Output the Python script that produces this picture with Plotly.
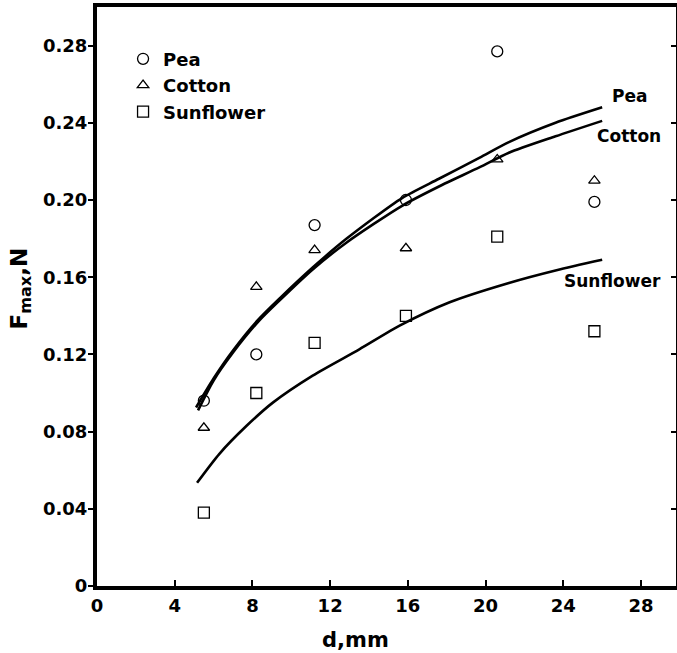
import plotly.graph_objects as go

# Measured points
d_mm = [5.5, 8.2, 11.2, 15.9, 20.6, 25.6]
pea_f = [0.096, 0.120, 0.187, 0.200, 0.277, 0.199]
cotton_f = [0.082, 0.155, 0.174, 0.175, 0.221, 0.210]
sunflower_f = [0.038, 0.100, 0.126, 0.140, 0.181, 0.132]

# Fitted curves
pea_curve_d = [5.1, 6.0, 7.0, 8.3, 9.4, 11.1, 12.85, 15.7, 17.6, 19.7, 21.2, 23.6, 26.0]
pea_curve_f = [0.0925, 0.1075, 0.122, 0.138, 0.149, 0.165, 0.180, 0.201, 0.211, 0.222, 0.230, 0.240, 0.248]
cotton_curve_d = [5.2, 6.0, 7.0, 8.3, 9.4, 11.1, 12.85, 15.7, 17.6, 19.7, 21.2, 23.6, 26.0]
cotton_curve_f = [0.091, 0.1065, 0.121, 0.137, 0.148, 0.164, 0.178, 0.197, 0.207, 0.217, 0.2245, 0.233, 0.241]
sun_curve_d = [5.15, 6.3, 7.7, 9.05, 11.1, 13.5, 15.6, 18.15, 21.2, 23.65, 26.0]
sun_curve_f = [0.0535, 0.0685, 0.083, 0.095, 0.109, 0.1226, 0.135, 0.147, 0.157, 0.1636, 0.169]

x_ticks = [0, 4, 8, 12, 16, 20, 24, 28]
y_ticks = [0, 0.04, 0.08, 0.12, 0.16, 0.20, 0.24, 0.28]
y_tick_labels = ["0", "0.04", "0.08", "0.12", "0.16", "0.20", "0.24", "0.28"]

FONT = "DejaVu Sans"
fig = go.Figure()

fig.add_trace(go.Scatter(x=d_mm, y=pea_f, mode="markers", name="Pea", legendgroup="a",
                         marker=dict(symbol="circle-open", size=11, color="black", line=dict(width=1.3))))
fig.add_trace(go.Scatter(x=d_mm, y=cotton_f, mode="markers", name="Cotton", legendgroup="b",
                         marker=dict(symbol="triangle-up-open", size=10, color="black", line=dict(width=1.3))))
fig.add_trace(go.Scatter(x=d_mm, y=sunflower_f, mode="markers", name="Sunflower", legendgroup="c",
                         marker=dict(symbol="square-open", size=11, color="black", line=dict(width=1.3))))

for cx, cy in [(pea_curve_d, pea_curve_f), (cotton_curve_d, cotton_curve_f), (sun_curve_d, sun_curve_f)]:
    fig.add_trace(go.Scatter(x=cx, y=cy, mode="lines", showlegend=False, hoverinfo="skip",
                             line=dict(color="black", width=2.6, shape="spline", smoothing=0.7)))

# invisible trace so the right-hand axis (inward ticks) is drawn
fig.add_trace(go.Scatter(x=[d_mm[0]], y=[pea_f[0]], yaxis="y2", mode="markers",
                         marker=dict(opacity=0), showlegend=False, hoverinfo="skip"))

lab_font = dict(family=FONT, size=17, color="black", weight="bold")
fig.add_annotation(x=pea_curve_d[-1], y=pea_curve_f[-1], text="Pea", showarrow=False,
                   xanchor="left", xshift=8, yshift=11, font=lab_font)
fig.add_annotation(x=cotton_curve_d[-1], y=cotton_curve_f[-1], text="Cotton", showarrow=False,
                   xanchor="left", xshift=-7, yshift=-15, font=lab_font)
fig.add_annotation(x=sun_curve_d[-1], y=sun_curve_f[-1], text="Sunflower", showarrow=False,
                   xanchor="center", xshift=10, yshift=-21, font=lab_font)

# axis titles
fig.add_annotation(xref="paper", yref="paper", x=0.447, y=0, yshift=-54, text="d,mm",
                   showarrow=False, xanchor="center", yanchor="middle",
                   font=dict(family=FONT, size=21, color="black", weight="bold"))
fig.add_annotation(xref="paper", yref="paper", x=0, xshift=-77, y=0.5, yshift=8,
                   text="F<sub>max</sub>,N", textangle=-90, showarrow=False,
                   xanchor="center", yanchor="middle",
                   font=dict(family=FONT, size=23, color="black", weight="bold"))

tick_font = dict(family=FONT, size=18, color="black", weight="bold")
fig.update_layout(
    width=677, height=653,
    margin=dict(l=97, r=1, t=7, b=67),
    paper_bgcolor="white", plot_bgcolor="white",
    showlegend=True,
    legend=dict(x=0.045, y=0.942, xanchor="left", yanchor="top",
                font=dict(family=FONT, size=18, color="black", weight="bold"),
                bgcolor="rgba(0,0,0,0)", traceorder="grouped", tracegroupgap=0),
    xaxis=dict(range=[0, 29.8], tickvals=x_ticks, ticks="inside", ticklen=6, tickwidth=2,
               tickcolor="black", showline=True, linecolor="black", linewidth=4, mirror=True,
               showgrid=False, zeroline=False, tickfont=tick_font, automargin=False),
    yaxis=dict(range=[0, 0.30], tickvals=y_ticks, ticktext=y_tick_labels, ticks="outside",
               ticklen=5, tickwidth=2, tickcolor="black", showline=True, linecolor="black",
               linewidth=4, mirror=False, showgrid=False, zeroline=False, tickfont=tick_font,
               ticklabelstandoff=-3, automargin=False),
    yaxis2=dict(range=[0, 0.30], overlaying="y", side="right", tickvals=y_ticks,
                ticks="inside", ticklen=5, tickwidth=2, tickcolor="black", showticklabels=False,
                showline=True, linecolor="black", linewidth=2, showgrid=False, zeroline=False,
                automargin=False),
)

fig.write_html("out.html", config={"displayModeBar": False},
               post_script="document.body.style.margin='0';document.body.style.overflow='hidden';")
